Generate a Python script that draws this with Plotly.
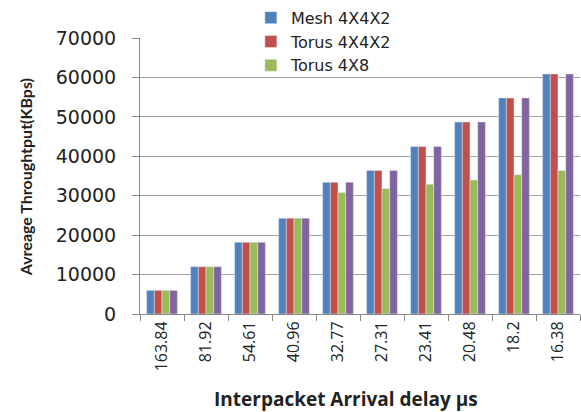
import plotly.graph_objects as go

categories = ["163.84", "81.92", "54.61", "40.96", "32.77", "27.31", "23.41", "20.48", "18.2", "16.38"]
mesh_4x4x2 = [6000, 12000, 18200, 24300, 33400, 36400, 42500, 48700, 54800, 60900]
torus_4x4x2 = [6000, 12000, 18200, 24300, 33400, 36400, 42500, 48700, 54800, 60900]
torus_4x8 = [6000, 12000, 18200, 24300, 30800, 31800, 32900, 34000, 35300, 36400]
series_4 = [6000, 12000, 18200, 24300, 33400, 36400, 42500, 48700, 54800, 60900]
y_ticks = [0, 10000, 20000, 30000, 40000, 50000, 60000, 70000]

fig = go.Figure()
fig.add_trace(go.Bar(x=categories, y=mesh_4x4x2, name="Mesh 4X4X2", marker_color="#4F81BD"))
fig.add_trace(go.Bar(x=categories, y=torus_4x4x2, name="Torus 4X4X2", marker_color="#C0504D"))
fig.add_trace(go.Bar(x=categories, y=torus_4x8, name="Torus 4X8", marker_color="#9BBB59"))
fig.add_trace(go.Bar(x=categories, y=series_4, name="", marker_color="#8064A2", showlegend=False))

fig.update_layout(
    width=581, height=412,
    margin=dict(l=140, r=1, t=34, b=98),
    paper_bgcolor="white", plot_bgcolor="white",
    barmode="group", bargap=0.3, bargroupgap=0,
    font=dict(family="Open Sans", color="#222222"),
    legend=dict(x=0.252, y=1.135, xanchor="left", yanchor="top",
                bgcolor="rgba(0,0,0,0)", font=dict(size=16, family="DejaVu Sans", color="#222222"),
                tracegroupgap=0, itemwidth=30),
    shapes=[dict(type="rect", xref="paper", yref="paper", x0=0.05, x1=0.914, y0=0.985, y1=1.02,
                 fillcolor="white", line=dict(width=0), layer="above")],
    annotations=[
        dict(text="<b>Interpacket Arrival delay µs</b>", xref="paper", yref="paper",
             x=0.468, y=-0.307, xanchor="center", yanchor="middle", showarrow=False,
             font=dict(size=19, family="Open Sans", color="#222222")),
        dict(text="<b>Avreage Throughtput(KBps)</b>", xref="paper", yref="paper",
             x=-0.261, y=0.496, xanchor="center", yanchor="middle", showarrow=False, textangle=-90,
             font=dict(size=16, family="Lato", color="#222222")),
    ],
)
fig.update_xaxes(
    type="category", tickangle=-90, tickson="boundaries", ticks="outside", ticklen=6,
    tickcolor="#888888", showline=True, linecolor="#888888", linewidth=1,
    tickfont=dict(size=16, family="Open Sans", color="#222222"),
)
fig.update_yaxes(
    range=[0, 70000], tickvals=y_ticks, ticktext=[str(v) for v in y_ticks],
    showgrid=True, gridcolor="#A0A0A0", gridwidth=1,
    ticks="outside", ticklen=7, tickcolor="#888888",
    showline=True, linecolor="#888888", linewidth=1, zeroline=False,
    tickfont=dict(size=19, family="DejaVu Sans", color="#222222"), ticklabelstandoff=12,
)

fig.write_html("out.html", config={"displayModeBar": False},
               post_script="document.body.style.margin='0';")
